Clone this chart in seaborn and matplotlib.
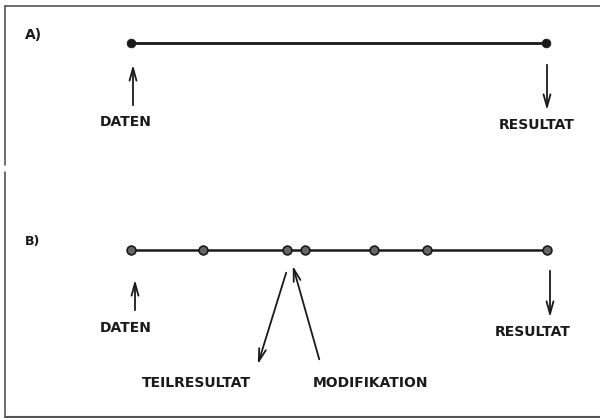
import numpy as np
import pandas as pd
import seaborn as sns
import matplotlib.pyplot as plt

# stages of the process (position along the line, pixel-like units)
stufen_a = [131, 546]
stufen_b = [131, 203, 287, 305, 374, 427, 547]
zeile_a = 43
zeile_b = 250

df_a = pd.DataFrame({'x': stufen_a, 'y': [zeile_a] * len(stufen_a)})
df_b = pd.DataFrame({'x': stufen_b, 'y': [zeile_b] * len(stufen_b)})

sns.set_style('white')
plt.rcParams['font.family'] = ['DejaVu Sans']

fig = plt.figure(figsize=(6, 4.18), dpi=100)
ax = fig.add_axes([0, 0, 1, 1])
ax.set_xlim(0, 600)
ax.set_ylim(418, 0)
ax.axis('off')

ink = '#1a1a1a'

# Rahmen (top, left with small gap, bottom)
ax.plot([5, 600], [6, 6], color='#555555', lw=1.2)
ax.plot([5, 5], [6, 165], color='#555555', lw=1.2)
ax.plot([5, 5], [172, 417], color='#555555', lw=1.2)
ax.plot([5, 600], [416.5, 416.5], color='#555555', lw=1.5)

# A) einfacher Ablauf
sns.lineplot(data=df_a, x='x', y='y', ax=ax, color=ink, lw=2, sort=False)
sns.scatterplot(data=df_a, x='x', y='y', ax=ax, color=ink, s=40, edgecolor=ink, zorder=3)

# B) Ablauf mit Teilresultaten
sns.lineplot(data=df_b, x='x', y='y', ax=ax, color=ink, lw=1.8, sort=False)
sns.scatterplot(data=df_b, x='x', y='y', ax=ax, color='#666666', s=40,
                edgecolor=ink, linewidth=1.2, zorder=3)
ax.set_xlabel('')
ax.set_ylabel('')

txt = dict(fontsize=10, fontweight='bold', color=ink, ha='center', va='center')
ax.text(25, 35, 'A)', fontsize=10, fontweight='bold', color=ink, va='center')
ax.text(25, 242, 'B)', fontsize=9, fontweight='bold', color=ink, va='center')

pfeil = dict(arrowstyle='->,head_length=0.9,head_width=0.25', color=ink, lw=1.3)

# A
ax.annotate('', xy=(133, 62), xytext=(133, 108), arrowprops=pfeil)
ax.text(126, 122, 'DATEN', **txt)
ax.annotate('', xy=(547, 113), xytext=(547, 62), arrowprops=pfeil)
ax.text(537, 125, 'RESULTAT', **txt)

# B
ax.annotate('', xy=(135, 277), xytext=(135, 313), arrowprops=pfeil)
ax.text(126, 328, 'DATEN', **txt)
ax.annotate('', xy=(550, 320), xytext=(550, 268), arrowprops=pfeil)
ax.text(533, 332, 'RESULTAT', **txt)
ax.annotate('', xy=(257, 367), xytext=(287, 270), arrowprops=pfeil)
ax.text(196, 383, 'TEILRESULTAT', **txt)
ax.annotate('', xy=(292, 263), xytext=(320, 362), arrowprops=pfeil)
ax.text(371, 383, 'MODIFIKATION', **txt)

fig.savefig('out.png', dpi=100)
